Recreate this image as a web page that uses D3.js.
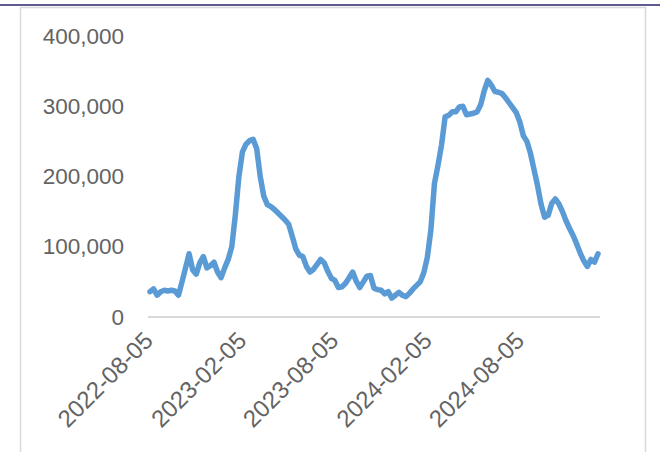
<!DOCTYPE html>
<html>
<head>
<meta charset="utf-8">
<script src="https://cdn.jsdelivr.net/npm/d3@7/dist/d3.min.js"></script>
<style>
html,body{margin:0;padding:0;background:#fff;}
svg{display:block;}
</style>
</head>
<body>
<svg id="chart" width="660" height="452"></svg>
<script>
// Weekly series starting 2022-08-05 (values in units)
const startDate = "2022-08-05";
const values = [
36,40,31,36,38,37,38,37,31,50,
70,90,67,61,77,86,70,73,78,64,
56,70,82,100,145,200,235,246,251,253,
240,200,172,160,157,153,148,143,138,132,
115,97,88,86,72,64,68,75,82,77,
65,55,52,42,43,48,56,64,51,42,
50,58,59,41,39,38,33,36,27,31,
35,31,29,34,40,45,50,63,85,124,
190,216,245,285,287,292,292,299,300,288,
289,290,292,302,322,337,330,321,320,318,
312,305,298,291,278,258,250,233,210,187,
160,142,145,162,168,161,150,137,126,116,
104,91,80,72,82,78,90
].map(v => v * 1000);
const yTicks = [0, 100000, 200000, 300000, 400000];
const xTickLabels = ["2022-08-05","2023-02-05","2023-08-05","2024-02-05","2024-08-05"];

const parse = d3.timeParse("%Y-%m-%d");
const t0 = parse(startDate);
const data = values.map((v, i) => ({date: d3.timeDay.offset(t0, 7 * i), value: v}));

const svg = d3.select("#chart");

// frame
svg.append("rect").attr("x", 20.5).attr("y", 7.5).attr("width", 625).attr("height", 460)
  .attr("fill", "#fff").attr("stroke", "#d9d9d9").attr("stroke-width", 1.5);
svg.append("line").attr("x1", 0).attr("x2", 660).attr("y1", 5).attr("y2", 5)
  .attr("stroke", "#5e5b8f").attr("stroke-width", 2);

const pLeft = 150, pRight = 598, pTop = 36, pBottom = 317;
const x = d3.scaleTime().domain([t0, data[data.length - 1].date]).range([pLeft, pRight]);
const y = d3.scaleLinear().domain([0, 400000]).range([pBottom, pTop]);

// y axis labels
const yAxis = svg.append("g").attr("transform", `translate(124,0)`)
  .call(d3.axisLeft(y).tickValues(yTicks).tickSize(0).tickPadding(0).tickFormat(d3.format(",")));
yAxis.select(".domain").remove();
yAxis.selectAll("text").attr("font-family", "Liberation Sans, Arial, sans-serif")
  .attr("font-size", 22.5).attr("fill", "#636363");

// x axis
const xAxis = svg.append("g").attr("transform", `translate(0,${pBottom})`)
  .call(d3.axisBottom(x).tickValues(xTickLabels.map(parse)).tickSize(0).tickFormat(d3.timeFormat("%Y-%m-%d")));
xAxis.select(".domain").attr("stroke", "#d9d9d9").attr("stroke-width", 2)
  .attr("d", `M${pLeft - 2},0H${pRight + 2}`);
xAxis.selectAll("text")
  .attr("font-family", "Liberation Sans, Arial, sans-serif")
  .attr("font-size", 24).attr("fill", "#636363")
  .attr("text-anchor", "end")
  .attr("dy", "0")
  .attr("y", 0)
  .attr("transform", "translate(4,25) rotate(-45)");

// line
const line = d3.line().x(d => x(d.date)).y(d => y(d.value)).curve(d3.curveLinear);
svg.append("path").datum(data).attr("d", line)
  .attr("fill", "none").attr("stroke", "#5b9bd5").attr("stroke-width", 5.5)
  .attr("stroke-linejoin", "round").attr("stroke-linecap", "round");
</script>
</body>
</html>
